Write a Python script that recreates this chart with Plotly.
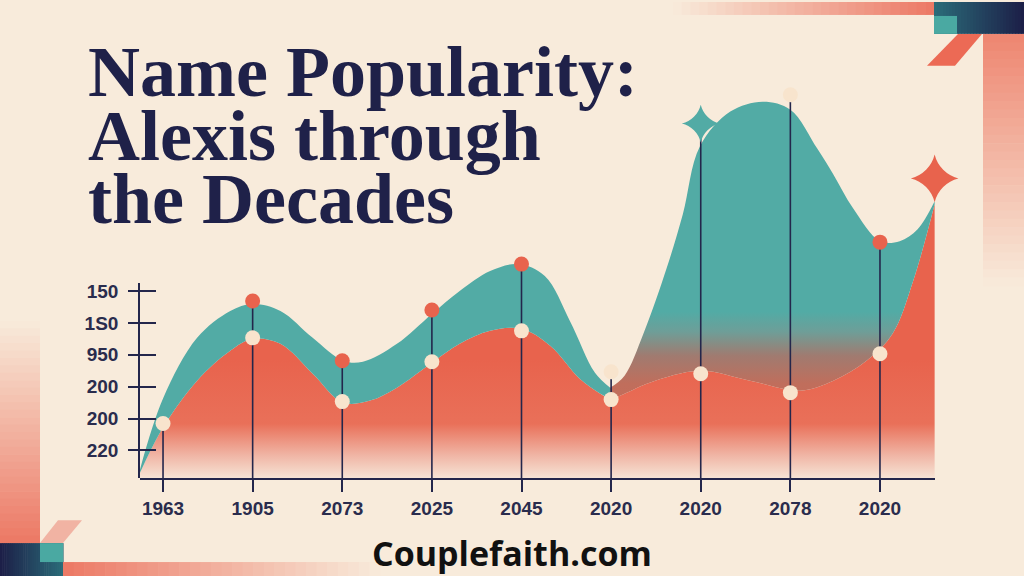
import plotly.graph_objects as go

W, H = 1024, 576
BG = '#f8ebdb'
NAVY = '#23264b'
TEAL = '#52aba5'
CORAL = '#e8634d'
CREAM = '#f8e4cd'

# ---- data (x = decade slot index, y = popularity units) ----
decade_labels = ['1963', '1905', '2073', '2025', '2045', '2020', '2020', '2078', '2020']
y_tick_text = ['150', '1S0', '950', '200', '200', '220']
y_tick_vals = [188, 156, 124, 92, 60, 28]

upper_x = [-0.26, 0.00, 0.38, 0.75, 1.00, 1.31, 1.67, 2.01, 2.23, 2.61, 3.00, 3.31, 3.65, 3.96,
           4.26, 4.54, 4.82, 4.99, 5.15, 5.36, 5.62, 5.80, 5.99, 6.33, 6.69, 7.00, 7.30, 7.48,
           7.70, 8.00, 8.22, 8.42, 8.61]
upper_y = [8, 80, 141, 168, 175, 168, 141, 118, 117, 135, 165, 188, 208, 215,
           203, 158, 106, 91, 103, 145, 211, 265, 333, 368, 378, 370, 331, 305,
           271, 238, 238, 250, 278]

lower_x = [-0.26, 0.00, 0.38, 0.75, 1.00, 1.31, 1.67, 2.01, 2.31, 2.61, 3.00, 3.31, 3.65, 4.00,
           4.32, 4.65, 4.88, 4.99, 5.10, 5.43, 5.99, 6.55, 7.11, 7.48, 7.85, 8.14, 8.37, 8.61]
lower_y = [5, 51, 98, 128, 140, 135, 105, 76, 78, 91, 116, 135, 148, 150,
           133, 100, 85, 80, 83, 96, 108, 98, 88, 98, 118, 145, 198, 275]

split_x = 4.99

red_dot_x = [1, 2, 3, 4, 8]
red_dot_y = [178, 118, 169, 215, 237]
cream_dot_x = [0, 1, 2, 3, 4, 5, 5, 6, 7, 7, 8]
cream_dot_y = [55, 141, 77, 117, 148, 107, 79, 105, 86, 385, 125]
stem_x = [0, 1, 2, 3, 4, 5, 6, 7, 8]
stem_top = [55, 178, 118, 169, 215, 107, 356, 385, 237]
teal_star = (6, 356)
coral_star = (8.61, 301)

fig = go.Figure()

# red area
fig.add_trace(go.Scatter(
    x=lower_x, y=lower_y, mode='lines', line=dict(width=0, shape='spline'),
    fill='tozeroy',
    fillgradient=dict(type='vertical', start=0, stop=400,
                      colorscale=[[0, '#f7e7d8'], [0.06, '#f0b6a6'], [0.14, '#e97059'],
                                  [0.3, CORAL], [1, CORAL]]),
    hoverinfo='skip', showlegend=False))

def part(xs, ys, left):
    pts = [(a, b) for a, b in zip(xs, ys) if (a <= split_x if left else a >= split_x)]
    return [p[0] for p in pts], [p[1] for p in pts]

llx, lly = part(lower_x, lower_y, True)
ulx, uly = part(upper_x, upper_y, True)
lrx, lry = part(lower_x, lower_y, False)
urx, ury = part(upper_x, upper_y, False)

fig.add_trace(go.Scatter(x=llx, y=lly, mode='lines', line=dict(width=0, shape='spline'),
                         hoverinfo='skip', showlegend=False))
fig.add_trace(go.Scatter(x=ulx, y=uly, mode='lines', line=dict(width=0, shape='spline'),
                         fill='tonexty', fillcolor=TEAL, hoverinfo='skip', showlegend=False))
fig.add_trace(go.Scatter(x=lrx, y=lry, mode='lines', line=dict(width=0, shape='spline'),
                         hoverinfo='skip', showlegend=False))
fig.add_trace(go.Scatter(
    x=urx, y=ury, mode='lines', line=dict(width=0, shape='spline'), fill='tonexty',
    fillgradient=dict(type='vertical', start=0, stop=400,
                      colorscale=[[0, '#cd6a56'], [0.24, '#c06e5c'], [0.31, '#a07b70'],
                                  [0.37, '#6e9e98'], [0.42, TEAL], [1, TEAL]]),
    hoverinfo='skip', showlegend=False))

# stems
sx, sy = [], []
for xv, top in zip(stem_x, stem_top):
    sx += [xv, xv, None]
    sy += [0, top, None]
fig.add_trace(go.Scatter(x=sx, y=sy, mode='lines', line=dict(color=NAVY, width=1.6),
                         hoverinfo='skip', showlegend=False))

fig.add_trace(go.Scatter(x=red_dot_x, y=red_dot_y, mode='markers', cliponaxis=False,
                         marker=dict(size=15, color=CORAL, line=dict(width=0)),
                         hoverinfo='skip', showlegend=False))
fig.add_trace(go.Scatter(x=cream_dot_x, y=cream_dot_y, mode='markers', cliponaxis=False,
                         marker=dict(size=15, color=CREAM, line=dict(width=0)),
                         hoverinfo='skip', showlegend=False))
fig.add_trace(go.Scatter(x=[teal_star[0]], y=[teal_star[1]], mode='markers', cliponaxis=False,
                         marker=dict(size=27, symbol='star-diamond', color=TEAL, line=dict(width=0)),
                         hoverinfo='skip', showlegend=False))
fig.add_trace(go.Scatter(x=[coral_star[0]], y=[coral_star[1]], mode='markers', cliponaxis=False,
                         marker=dict(size=34, symbol='star-diamond', color=CORAL, line=dict(width=0)),
                         hoverinfo='skip', showlegend=False))

# dummy traces for decorative y axis
fig.add_trace(go.Scatter(x=[None], y=[None], yaxis='y2', showlegend=False, hoverinfo='skip'))
fig.add_trace(go.Scatter(x=[None], y=[None], yaxis='y3', showlegend=False, hoverinfo='skip'))

def px(x, y):
    return x / W, 1 - y / H

shapes = []

def rect(x0, y0, x1, y1, color, opacity=1.0):
    a0, b0 = px(x0, y1)
    a1, b1 = px(x1, y0)
    shapes.append(dict(type='rect', xref='paper', yref='paper', x0=a0, x1=a1, y0=b0, y1=b1,
                       fillcolor=color, opacity=opacity, line=dict(width=0), layer='below'))

def grad(x0, y0, x1, y1, c0, c1, horizontal=True, n=30):
    def mix(t):
        return '#%02x%02x%02x' % tuple(int(round(c0[i] + (c1[i] - c0[i]) * t)) for i in range(3))
    for i in range(n):
        t = (i + 0.5) / n
        if horizontal:
            xa = x0 + (x1 - x0) * i / n
            xb = x0 + (x1 - x0) * (i + 1) / n + 0.6
            rect(xa, y0, xb, y1, mix(t))
        else:
            ya = y0 + (y1 - y0) * i / n
            yb = y0 + (y1 - y0) * (i + 1) / n + 0.6
            rect(x0, ya, x1, yb, mix(t))

bgc = (0xf8, 0xeb, 0xdb)
coral_c = (0xec, 0x78, 0x64)
navy_c = (0x1c, 0x1e, 0x47)
tealnavy_c = (0x2b, 0x6c, 0x79)

# top right decorations
grad(673, 0, 934, 13, bgc, coral_c)
grad(934, 0, 1024, 32, tealnavy_c, navy_c)
rect(934, 14, 957, 32, '#4aa9a2')
grad(983, 32, 1024, 285, (0xee, 0x85, 0x70), bgc, horizontal=False)

def poly(pts, color):
    path = 'M ' + ' L '.join('%f,%f' % px(a, b) for a, b in pts) + ' Z'
    shapes.append(dict(type='path', xref='paper', yref='paper', path=path, fillcolor=color,
                       line=dict(width=0), layer='below'))

poly([(958, 32), (982, 32), (955, 64), (927, 64)], '#ec6a55')

# bottom left decorations
grad(0, 320, 40, 543, bgc, coral_c, horizontal=False)
grad(0, 543, 63, 576, navy_c, tealnavy_c)
rect(40, 543, 63, 562, '#4aa9a2')
poly([(58, 520), (82, 520), (63, 543), (40, 543)], '#f1b3a3')
grad(63, 562, 380, 576, coral_c, bgc)

annotations = []
title_lines = ['Name Popularity:', 'Alexis through', 'the Decades']
for i, (line, yc) in enumerate(zip(title_lines, [70, 134, 198])):
    annotations.append(dict(text=line, x=86 / W, y=1 - yc / H, xref='paper', yref='paper',
                            xanchor='left', yanchor='middle', showarrow=False,
                            font=dict(family='Liberation Serif', size=72, color='#1f2149',
                                      weight='bold')))
annotations.append(dict(text='Couplefaith.com', x=512 / W, y=1 - 553 / H, xref='paper', yref='paper',
                        xanchor='center', yanchor='middle', showarrow=False,
                        font=dict(family='Open Sans', size=34, color='#111111', weight='bold')))

fig.update_layout(
    width=W, height=H, margin=dict(l=0, r=0, t=0, b=0),
    paper_bgcolor=BG, plot_bgcolor='rgba(0,0,0,0)',
    shapes=shapes, annotations=annotations, showlegend=False,
    xaxis=dict(domain=[140 / W, 935 / W], range=[-0.257, 8.614], anchor='y',
               showgrid=False, zeroline=False, showline=True, linecolor=NAVY, linewidth=1.6,
               ticks='outside', ticklen=12, tickwidth=1.6, tickcolor=NAVY,
               tickvals=list(range(len(decade_labels))), ticktext=decade_labels,
               tickfont=dict(family='Liberation Sans', size=19, color='#2a2c4d', weight='bold'),
               ticklabelstandoff=0, fixedrange=True),
    yaxis=dict(domain=[1 - 478 / H, 1 - 78 / H], range=[0, 400], visible=False, fixedrange=True),
    yaxis2=dict(domain=[1 - 478 / H, 1 - 282 / H], range=[0, 196], anchor='x', side='left',
                showgrid=False, zeroline=False, showline=True, linecolor=NAVY, linewidth=1.6,
                ticks='outside', ticklen=10, tickwidth=1.6, tickcolor=NAVY,
                tickvals=y_tick_vals, ticktext=y_tick_text,
                tickfont=dict(family='Liberation Sans', size=19, color='#2a2c4d', weight='bold'),
                ticklabelstandoff=6, fixedrange=True),
    yaxis3=dict(overlaying='y2', range=[0, 196], anchor='x', side='left', showgrid=False,
                zeroline=False, showline=False, ticks='inside', ticklen=16, tickwidth=1.6,
                tickcolor=NAVY, tickvals=y_tick_vals, showticklabels=False, fixedrange=True),
)

fig.write_html('out.html', config={'displayModeBar': False},
               post_script="document.body.style.margin='0';document.body.style.overflow='hidden';")
